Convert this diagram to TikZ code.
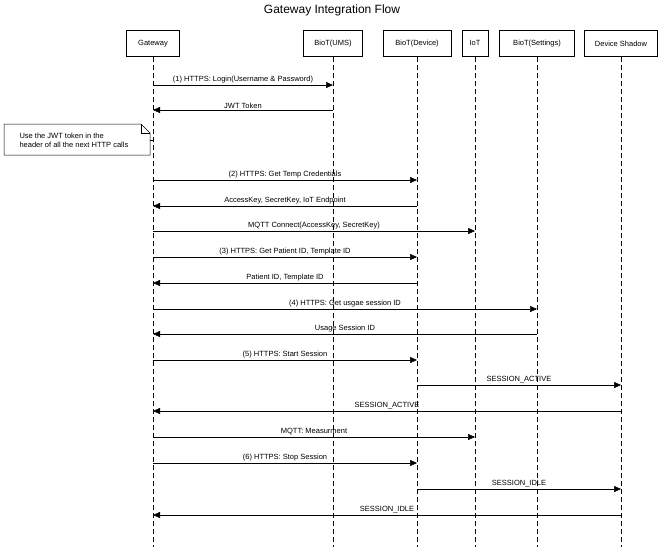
\documentclass[tikz,border=0pt]{standalone}
\usepackage{fontspec}
\setmainfont{Liberation Sans}
\usetikzlibrary{arrows.meta,shapes.misc}
\tikzset{
  part/.style={draw,line width=0.9pt,minimum height=26pt,inner xsep=4pt,font=\fontsize{7.5}{9}\selectfont,anchor=north},
  life/.style={dashed,line width=0.5pt,dash pattern=on 5pt off 3pt},
  msgline/.style={-{Triangle[length=7pt,width=6pt]},line width=0.5pt},
  lbl/.style={font=\fontsize{7.5}{9}\selectfont,above,inner sep=1.5pt}
}
\newcommand\msg[4]{%
  \coordinate (ma) at (#2,-#1);
  \coordinate (mb) at (#3,-#1);
  \draw[msgline] (ma) -- node[lbl]{#4} (mb);}
\begin{document}
\begin{tikzpicture}[x=1pt,y=1pt]
\useasboundingbox (0,0) rectangle (664,-547);
\node[font=\fontsize{12}{14}\selectfont] (title) at (332,-10) {Gateway Integration Flow};
\def\xg{153}\def\xu{333}\def\xd{417}\def\xi{475}\def\xs{537}\def\xh{621}
\node[part,minimum width=53pt] (g) at (\xg,-30) {Gateway};
\node[part,minimum width=59pt] (u) at (\xu,-30) {BioT(UMS)};
\node[part,minimum width=68pt] (d) at (\xd,-30) {BioT(Device)};
\node[part,minimum width=26pt] (i) at (\xi,-30) {IoT};
\node[part,minimum width=75pt] (s) at (\xs,-30) {BioT(Settings)};
\node[part,minimum width=73pt] (h) at (\xh,-30) {Device Shadow};
\foreach \n/\x in {g/\xg,u/\xu,d/\xd,i/\xi,s/\xs,h/\xh}{
  \coordinate (\n end) at (\x,-547);
  \draw[life] (\n.south) -- (\n end);
}
\msg{85}{\xg}{\xu}{(1) HTTPS: Login(Username \& Password)}
\msg{110}{\xu}{\xg}{JWT Token}
% note
\draw[line width=0.5pt] (4,-124) -- (141,-124) -- (150,-133) -- (150,-155) -- (4,-155) -- cycle;
\draw[line width=0.5pt] (141,-124) -- (141,-133) -- (150,-133);
\node[font=\fontsize{7.5}{9}\selectfont,align=left,anchor=west] (note) at (16,-140) {Use the JWT token in the\\header of all the next HTTP calls};
\coordinate (nr) at (150,-140);
\coordinate (ng) at (\xg,-140);
\draw[dashed,line width=0.5pt] (nr) -- (ng);
\msg{180}{\xg}{\xd}{(2) HTTPS: Get Temp Credentials}
\msg{206}{\xd}{\xg}{AccessKey, SecretKey, IoT Endpoint}
\msg{231}{\xg}{\xi}{MQTT Connect(AccessKey, SecretKey)}
\msg{257}{\xg}{\xd}{(3) HTTPS: Get Patient ID, Template ID}
\msg{283}{\xd}{\xg}{Patient ID, Template ID}
\msg{309}{\xg}{\xs}{(4) HTTPS: Get usgae session ID}
\msg{334}{\xs}{\xg}{Usage Session ID}
\msg{360}{\xg}{\xd}{(5) HTTPS: Start Session}
\msg{385}{\xd}{\xh}{SESSION\_ACTIVE}
\msg{411}{\xh}{\xg}{SESSION\_ACTIVE}
\msg{437}{\xg}{\xi}{MQTT: Measurment}
\msg{463}{\xg}{\xd}{(6) HTTPS: Stop Session}
\msg{489}{\xd}{\xh}{SESSION\_IDLE}
\msg{515}{\xh}{\xg}{SESSION\_IDLE}
\end{tikzpicture}
\end{document}
